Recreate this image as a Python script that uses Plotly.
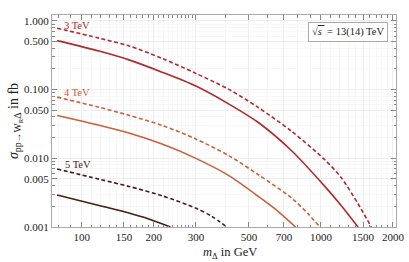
import plotly.graph_objects as go
import numpy as np

# ---- data ----
m_3_13 = [78.8, 118, 157.3, 216.5, 298.3, 410.6, 547.3, 753.9, 1038, 1217, 1429]
s_3_13 = [0.517, 0.364, 0.271, 0.1795, 0.1135, 0.0621, 0.0332, 0.01288, 0.0039, 0.00204, 0.001]
m_3_14 = [78.8, 118, 157.3, 216.5, 298.3, 410.6, 547.3, 753.9, 1038, 1217, 1429, 1624]
s_3_14 = [0.783, 0.562, 0.433, 0.285, 0.1736, 0.1016, 0.0548, 0.0247, 0.00952, 0.00521, 0.00218, 0.001]

m_4_13 = [78.8, 118, 157.3, 216.5, 298.3, 410.6, 547.3, 642.6, 783.1]
s_4_13 = [0.0420, 0.0303, 0.0233, 0.0161, 0.01007, 0.00564, 0.00279, 0.00183, 0.001]
m_4_14 = [78.8, 118, 157.3, 216.5, 298.3, 410.6, 547.3, 753.9, 884.4, 989.5]
s_4_14 = [0.0777, 0.0554, 0.0423, 0.0302, 0.01923, 0.0110, 0.00577, 0.00264, 0.00155, 0.001]

m_5_13 = [78.8, 118, 157.3, 190.5, 234.6]
s_5_13 = [0.00292, 0.00206, 0.0016, 0.00131, 0.001]
m_5_14 = [78.8, 118, 157.3, 216.5, 298.3, 348.6, 404]
s_5_14 = [0.00698, 0.00497, 0.00390, 0.00285, 0.00189, 0.00144, 0.001]

x_tickvals = [100, 150, 200, 300, 500, 700, 1000, 1500, 2000]
x_ticktext = ["100", "150", "200", "300", "500", "700", "1000", "1500", "2000"]
y_tickvals = [0.001, 0.005, 0.01, 0.05, 0.1, 0.5, 1.0]
y_ticktext = ["0.001", "0.005", "0.010", "0.050", "0.100", "0.500", "1.000"]

labels = ["3 TeV", "4 TeV", "5 TeV"]
label_x = [95, 95, 96]
label_y = [0.87, 0.09, 0.0081]

colors = ["#b3282d", "#c8623a", "#4a1c14"]

series = [
    (m_3_13, s_3_13, colors[0], "solid"),
    (m_3_14, s_3_14, colors[0], "4px,2.5px"),
    (m_4_13, s_4_13, colors[1], "solid"),
    (m_4_14, s_4_14, colors[1], "4px,2.5px"),
    (m_5_13, s_5_13, colors[2], "solid"),
    (m_5_14, s_5_14, colors[2], "4px,2.5px"),
]

fig = go.Figure()
for mx, sy, c, d in series:
    fig.add_trace(go.Scatter(x=mx, y=sy, mode="lines",
                             line=dict(color=c, width=1.6, dash=d, shape="spline", smoothing=0.8),
                             showlegend=False, hoverinfo="skip"))

font = "Liberation Serif, Times New Roman, serif"

minor_x = [80, 90] + [i * 10 for i in range(11, 20)] + [i * 10 for i in range(21, 30)] + \
          [400, 600, 800, 900] + [1100, 1200, 1300, 1400, 1600, 1700, 1800, 1900]
minor_x = [v for v in minor_x if v not in x_tickvals]
minor_y = []
for dec in [0.001, 0.01, 0.1, 1.0]:
    for k in range(2, 10):
        v = k * dec
        if v < 1.25 and k != 5:
            minor_y.append(v)

axis_common = dict(type="log", showline=True, linecolor="#aaaaaa", linewidth=1, mirror="ticks",
                   ticks="inside", ticklen=5, tickcolor="#888888", tickwidth=1, automargin=False,
                   showgrid=True, gridcolor="#eeeeee", gridwidth=1, zeroline=False,
                   tickfont=dict(family=font, size=11, color="#222222"))

fig.update_xaxes(**axis_common, range=[np.log10(75), np.log10(2060)],
                 tickmode="array", tickvals=x_tickvals, ticktext=x_ticktext,
                 minor=dict(tickmode="array", tickvals=minor_x, ticks="inside", ticklen=2.5,
                            tickcolor="#888888", showgrid=True, gridcolor="#f7f7f7"))
fig.update_yaxes(**axis_common, range=[-3, np.log10(1.22)],
                 tickmode="array", tickvals=y_tickvals, ticktext=y_ticktext,
                 minor=dict(tickmode="array", tickvals=minor_y, ticks="inside", ticklen=2.5,
                            tickcolor="#888888", showgrid=True, gridcolor="#f7f7f7"),
                 title=dict(text="<i>σ</i><sub>pp→W<sub>R</sub>Δ</sub> in fb",
                            font=dict(family=font, size=14, color="#222222"), standoff=1))

fig.add_annotation(x=0.517, y=-0.122, xref="paper", yref="paper",
                   text="<i>m</i><sub>Δ</sub> in GeV", showarrow=False,
                   font=dict(family=font, size=12.5, color="#222222"),
                   xanchor="center", yanchor="middle")

for t, xx, yy, c in zip(labels, label_x, label_y, colors):
    fig.add_annotation(x=np.log10(xx), y=np.log10(yy), xref="x", yref="y", text=t, showarrow=False,
                       font=dict(family=font, size=10.5, color=c), xanchor="center", yanchor="middle")

fig.add_annotation(x=0.86, y=0.922, xref="paper", yref="paper",
                   text="√<span style='text-decoration:overline'><i>s</i> </span> = 13(14) TeV",
                   showarrow=False, font=dict(family=font, size=10.5, color="#222222"),
                   bordercolor="#aaaaaa", borderwidth=1, borderpad=3, bgcolor="white",
                   xanchor="center", yanchor="middle")

fig.update_layout(width=409, height=262, margin=dict(l=52, r=13, t=15, b=35),
                  plot_bgcolor="white", paper_bgcolor="white")

fig.write_html("out.html", config={"displayModeBar": False},
               post_script="document.body.style.margin='0';document.body.style.padding='0';")
